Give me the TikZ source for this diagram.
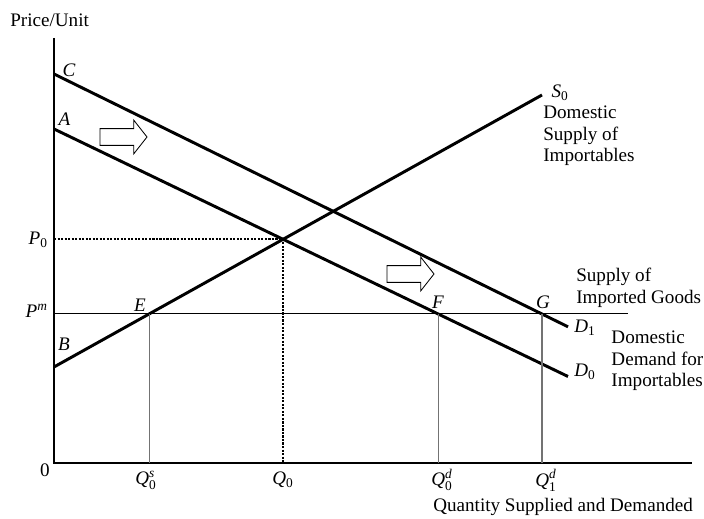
\documentclass[tikz,border=0pt]{standalone}
\usepackage{fontspec}
\setmainfont{Liberation Serif}
\usepackage{amsmath}
\usetikzlibrary{calc,positioning}
\tikzset{
  curve/.style={line width=2.1pt},
  axis/.style={line width=1.2pt},
  guide/.style={line width=0.8pt, black!55},
  lvl/.style={line width=0.7pt},
  dots/.style={line width=1.5pt, densely dotted},
  shiftarr/.style={line width=0.6pt, fill=white},
  lbl/.style={inner sep=0pt, font=\fontsize{13.6}{15.3}\selectfont},
  blk/.style={lbl, align=left, anchor=north west},
}

\begin{document}
\begin{tikzpicture}
\useasboundingbox (-1.35,-1.4) rectangle (16.25,11.575);
% axes
\draw[axis] (0,10.625) coordinate(Ytop) -- (0,0) coordinate(O) -- (15.95,0) coordinate(Xend);
% world price
\draw[lvl] (0,3.725) coordinate(Pm) -- ++(14.35,0) coordinate(PmEnd);
% demand and supply
\draw[curve] (0,9.725) coordinate(C) -- (12.85,3.405) coordinate(D1);
\draw[curve] (0,8.35) coordinate(A) -- (12.85,2.1625) coordinate(D0);
\draw[curve] (0,2.4) coordinate(B) -- (12.2,9.2) coordinate(S0);
\coordinate (E0) at (intersection of Pm--PmEnd and B--S0);
\coordinate (F0) at (intersection of Pm--PmEnd and A--D0);
\coordinate (G0) at (intersection of Pm--PmEnd and C--D1);
\coordinate (Eq) at (intersection of A--D0 and B--S0);
\draw[dots] (O |- Eq) -- (Eq) -- (Eq |- O);
\foreach \p in {E0,F0,G0}
  \draw[guide] (\p) -- (\p |- O);
% shift arrows
\foreach \ax/\ay in {1.15/8.15, 8.325/4.725}
  \draw[shiftarr] (\ax,\ay) -- ++(0,0.21) -- ++(0.845,0) -- ++(0,0.21) -- ++(0.33,-0.42) -- ++(-0.33,-0.42) -- ++(0,0.21) -- ++(-0.845,0) -- cycle;
% labels
\node[lbl,anchor=west] (lblPrice) at (-1.1,11.075) {Price/Unit};
\node[lbl] (lblC) at (0.375,9.825) {\textit{C}};
\node[lbl] (lblA) at (0.26,8.6) {\textit{A}};
\node[lbl] (lblB) at (0.25,2.975) {\textit{B}};
\node[lbl] (lblE) at (2.15,3.95) {\textit{E}};
\node[lbl] (lblF) at (9.6,4.025) {\textit{F}};
\node[lbl] (lblG) at (12.225,4.025) {\textit{G}};
\node[lbl,anchor=east] (lblP0) at (-0.15,5.59) {$\textit{P}_{\text{0}}$};
\node[lbl,anchor=east] (lblPm) at (-0.15,3.8) {$\textit{P}^{\textit{m}}$};
\node[lbl] (lblO) at (-0.225,-0.175) {0};
\node[lbl] (lblQs) at (2.3,-0.43) {$\textit{Q}^{\textit{s}}_{\text{0}}$};
\node[lbl] (lblQ0) at (5.725,-0.42) {$\textit{Q}_{\text{0}}$};
\node[lbl] (lblQd0) at (9.7,-0.43) {$\textit{Q}^{\textit{d}}_{\text{0}}$};
\node[lbl] (lblQd1) at (12.3,-0.43) {$\textit{Q}^{\textit{d}}_{\text{1}}$};
\node[lbl,anchor=west] (lblQty) at (9.475,-1.1) {Quantity Supplied and Demanded};
\node[lbl] (lblS0) at (12.65,9.25) {$\textit{S}_{\text{0}}$};
\node[blk] (lblDS) at (12.225,8.925) {Domestic\\Supply of\\Importables};
\node[blk] (lblSI) at (13.05,4.875) {Supply of\\Imported Goods};
\node[lbl] (lblD1) at (13.275,3.375) {$\textit{D}_{\text{1}}$};
\node[lbl] (lblD0) at (13.275,2.275) {$\textit{D}_{\text{0}}$};
\node[blk] (lblDD) at (13.93,3.3) {Domestic\\Demand for\\Importables};
\end{tikzpicture}
\end{document}
